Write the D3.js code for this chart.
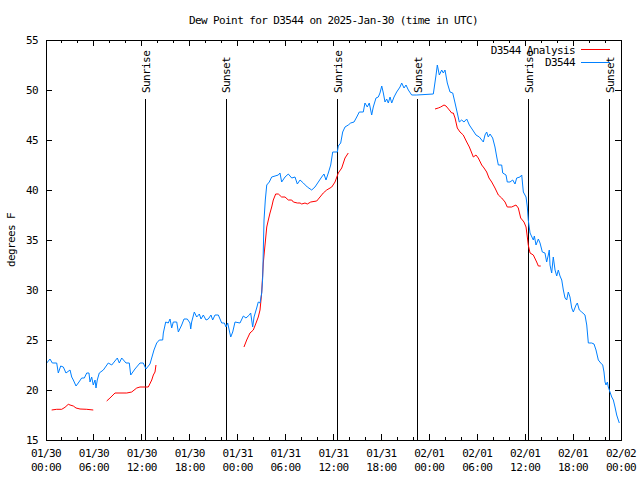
<!DOCTYPE html>
<html>
<head>
<meta charset="utf-8">
<script src="https://cdnjs.cloudflare.com/ajax/libs/d3/7.8.5/d3.min.js"></script>
<style>
  body { margin: 0; background: #fff; }
  text { font-family: "DejaVu Sans Mono", monospace; font-size: 11px; letter-spacing: -0.6px; fill: #000; }
</style>
</head>
<body>
<script>
// hours after 2025-01-30 00:00 UTC
var stationHours = [0.09,0.50,0.79,1.34,1.54,1.84,2.17,2.50,3.01,3.22,3.42,3.76,4.04,4.47,4.80,5.10,5.38,5.51,5.72,5.92,6.14,6.26,6.42,6.67,7.18,7.80,8.23,8.93,9.18,9.48,10.02,10.43,10.61,11.14,11.77,12.18,12.52,13.02,13.52,13.86,14.19,14.61,14.69,14.99,15.31,15.53,15.74,15.94,16.37,16.57,16.99,17.28,17.69,18.03,18.12,18.24,18.57,18.87,19.20,19.41,19.70,20.04,20.32,20.66,20.87,21.16,21.58,22.00,22.33,22.54,22.75,23.13,23.38,23.67,24.29,24.71,25.04,25.46,25.63,25.88,26.05,26.38,26.58,26.80,27.01,27.14,27.21,27.30,27.46,27.64,27.96,28.26,28.68,29.09,29.30,29.51,29.93,30.34,30.77,31.18,31.47,31.81,32.22,32.72,33.27,33.68,34.10,34.52,34.81,35.06,35.35,35.65,35.90,36.48,36.60,36.90,37.15,37.44,37.85,38.15,38.57,38.91,39.23,39.73,39.94,40.23,40.48,40.78,40.98,41.32,41.61,41.82,42.04,42.24,42.45,42.66,42.86,43.08,43.29,43.58,43.91,44.33,44.54,44.83,45.08,45.37,45.79,46.42,48.50,48.84,49.00,49.25,49.55,49.75,49.96,50.25,50.59,50.93,51.22,51.50,51.75,52.05,52.34,52.68,53.01,53.43,53.84,54.26,54.76,54.97,55.18,55.38,55.60,55.93,56.22,56.44,56.64,57.06,57.19,57.60,57.76,58.10,58.44,58.73,58.94,59.35,59.57,59.77,60.11,60.27,60.39,60.61,61.02,61.15,61.36,61.65,61.86,62.15,62.48,62.69,62.90,63.02,63.11,63.32,63.52,63.74,63.95,64.15,64.36,64.58,64.78,64.99,65.20,65.40,65.61,65.83,66.03,66.37,66.53,66.78,67.08,67.49,67.71,67.91,68.33,68.62,68.87,69.16,69.46,69.71,69.87,70.00,70.12,70.29,70.41,70.62,70.84,71.04,71.25,71.46,71.66,71.79];
var stationDew = [22.7,23.1,22.7,22.7,21.7,22.4,22.3,21.7,22.0,21.3,21.0,20.4,20.7,21.2,21.2,21.7,21.7,20.8,21.3,20.5,21.0,20.2,21.0,21.7,22.0,22.7,22.5,23.2,22.7,23.2,22.7,22.7,21.5,22.1,22.7,22.7,22.1,22.6,24.0,24.7,25.0,25.0,25.7,26.8,26.7,27.1,26.2,26.8,26.8,25.8,26.5,27.1,27.1,26.7,26.1,26.8,27.8,27.3,27.6,27.1,27.5,27.0,27.1,27.5,27.0,27.5,27.5,26.7,26.7,26.3,26.7,25.3,25.8,26.8,26.7,27.4,27.2,27.5,27.7,26.3,27.3,28.2,28.8,28.7,29.7,31.3,34.0,37.0,39.0,40.5,40.8,41.3,41.4,41.5,41.7,40.8,41.3,41.6,41.2,41.3,40.6,41.0,40.7,40.3,40.0,40.3,40.8,41.3,41.6,41.0,41.7,42.5,43.8,43.8,44.4,44.7,45.8,46.3,46.5,46.7,46.8,47.3,47.8,47.8,48.7,48.3,48.7,47.5,48.3,49.2,49.3,49.7,50.4,49.7,48.8,49.1,48.7,49.3,48.7,49.3,49.8,50.3,50.7,50.2,50.5,50.0,49.5,49.5,49.6,51.5,52.5,51.5,52.0,51.7,52.0,50.7,49.8,49.7,48.7,47.7,46.8,47.0,46.8,47.1,46.5,46.0,45.5,45.3,44.8,45.5,45.8,45.3,45.6,45.2,44.3,43.3,42.5,42.5,41.7,41.5,40.8,40.8,41.0,40.6,41.2,41.3,41.5,39.8,39.3,38.3,37.0,35.7,35.0,35.4,34.5,35.1,34.7,33.8,33.7,32.8,33.5,34.0,32.5,31.7,33.3,32.0,31.4,32.0,31.4,31.0,30.0,29.2,29.0,29.8,29.3,28.2,27.8,28.5,28.7,28.0,27.8,27.5,26.5,24.7,24.7,24.6,24.0,23.0,22.7,22.5,21.8,20.8,20.5,20.8,20.3,19.8,19.3,19.0,18.3,17.5,17.0,16.7];

// analysis, null = gap
var analysisHours = [0.71,1.34,1.97,2.38,2.79,3.01,3.42,3.76,4.26,5.10,5.92,null,
  7.60,8.01,8.64,10.11,10.73,11.36,11.77,12.81,13.24,13.44,13.65,13.77,null,
  24.79,25.13,25.54,25.96,26.30,26.58,26.80,26.92,27.01,27.21,27.34,27.51,27.64,27.84,28.05,28.26,28.46,28.76,29.09,29.51,29.93,30.34,30.77,30.97,31.47,31.81,32.02,32.43,32.72,33.15,33.90,34.31,34.72,35.15,35.78,36.19,36.60,37.03,37.44,37.85,null,
  48.71,49.12,49.42,49.84,50.09,50.50,50.80,51.00,51.22,51.50,51.84,52.25,52.68,53.01,53.51,53.84,54.13,54.56,54.85,55.18,55.47,55.81,56.22,56.64,57.06,57.48,57.76,58.31,58.85,59.14,59.44,59.85,60.11,60.27,60.39,60.61,61.02,61.44,61.65,61.95];
var analysisDew = [18.0,18.07,18.07,18.27,18.57,18.5,18.4,18.2,18.1,18.07,18.0,null,
  18.9,19.2,19.7,19.7,19.8,20.2,20.3,20.3,21.0,21.5,21.8,22.5,null,
  24.3,25.0,25.7,26.0,26.7,27.3,28.0,29.0,29.8,32.7,33.8,35.2,36.3,37.0,37.7,38.3,39.0,39.6,39.6,39.3,39.3,39.0,39.0,38.8,38.7,38.7,38.6,38.7,38.6,38.8,38.9,39.3,39.7,40.0,40.3,40.8,41.7,42.2,43.2,43.7,null,
  48.1,48.2,48.3,48.5,48.4,48.0,47.7,47.7,47.2,46.2,45.8,45.5,44.8,44.3,43.3,43.5,43.2,42.5,42.2,41.8,41.2,40.8,40.2,39.5,39.2,38.8,38.3,38.3,38.5,38.2,37.2,36.8,36.3,35.3,34.5,33.7,33.5,32.8,32.4,32.4];

var sunHours = [12.48, 22.55, 36.48, 46.5, 60.42, 70.55];
var sunLabels = ["Sunrise", "Sunset", "Sunrise", "Sunset", "Sunrise", "Sunset"];
var yTicks = [15, 20, 25, 30, 35, 40, 45, 50, 55];

var t0 = Date.UTC(2025, 0, 30);
var toDate = function(h) { return new Date(t0 + h * 3600000); };

var margin = {top: 40, right: 19, bottom: 40, left: 46},
    width = 640 - margin.left - margin.right,
    height = 480 - margin.top - margin.bottom;

var svg = d3.select("body").append("svg")
    .attr("width", 640)
    .attr("height", 480);

var g = svg.append("g")
    .attr("transform", "translate(" + margin.left + "," + margin.top + ")");

var x = d3.scaleUtc()
    .domain([toDate(0), toDate(72)])
    .range([0, width]);

var y = d3.scaleLinear()
    .domain([15, 55])
    .range([height, 0]);

var majorTicks = d3.utcHour.every(6).range(toDate(0), toDate(72.01));
var minorTicks = d3.utcHour.every(2).range(toDate(0), toDate(72.01));

// ticks on all four sides, pointing inward
var tickG = g.append("g").attr("stroke", "#000").attr("shape-rendering", "crispEdges");
minorTicks.forEach(function(d) {
  var len = (d.getUTCHours() % 6 === 0) ? 6 : 3;
  tickG.append("line").attr("x1", x(d)).attr("x2", x(d)).attr("y1", height).attr("y2", height - len);
  tickG.append("line").attr("x1", x(d)).attr("x2", x(d)).attr("y1", 0).attr("y2", len);
});
yTicks.forEach(function(v) {
  tickG.append("line").attr("x1", 0).attr("x2", 6).attr("y1", y(v)).attr("y2", y(v));
  tickG.append("line").attr("x1", width).attr("x2", width - 6).attr("y1", y(v)).attr("y2", y(v));
});

// y labels
g.selectAll(".ylab")
    .data(yTicks)
  .enter().append("text")
    .attr("x", -8)
    .attr("y", function(d) { return y(d); })
    .attr("dy", "0.35em")
    .style("text-anchor", "end")
    .text(function(d) { return d; });

// x labels on two lines
var fmtDay = d3.utcFormat("%m/%d"), fmtTime = d3.utcFormat("%H:%M");
var xl = g.selectAll(".xlab")
    .data(majorTicks)
  .enter().append("text")
    .attr("transform", function(d) { return "translate(" + x(d) + "," + height + ")"; })
    .style("text-anchor", "middle");
xl.append("tspan").attr("x", 0).attr("y", 17).text(function(d) { return fmtDay(d); });
xl.append("tspan").attr("x", 0).attr("y", 31).text(function(d) { return fmtTime(d); });

// sunrise / sunset markers
sunHours.forEach(function(h, i) {
  var sx = x(toDate(h));
  g.append("line")
      .attr("x1", sx).attr("x2", sx)
      .attr("y1", height).attr("y2", 59)
      .attr("stroke", "#000")
      .attr("shape-rendering", "crispEdges");
  g.append("text")
      .attr("transform", "translate(" + (sx + 0.5) + ",53) rotate(-90)")
      .attr("dy", "0.35em")
      .style("text-anchor", "start")
      .text(sunLabels[i]);
});

var stationData = stationHours.map(function(h, i) { return {time: toDate(h), value: stationDew[i]}; });
var analysisData = analysisHours.map(function(h, i) {
  return {time: h === null ? null : toDate(h), value: analysisDew[i]};
});

var line = d3.line()
    .defined(function(d) { return d.value !== null; })
    .x(function(d) { return x(d.time); })
    .y(function(d) { return y(d.value); });

g.append("path")
    .datum(analysisData)
    .attr("fill", "none")
    .attr("stroke", "#ff0000")
    .attr("stroke-width", 1)
    .attr("d", line);

g.append("path")
    .datum(stationData)
    .attr("fill", "none")
    .attr("stroke", "#0080ff")
    .attr("stroke-width", 1)
    .attr("d", line);

// frame
g.append("rect")
    .attr("width", width)
    .attr("height", height)
    .attr("fill", "none")
    .attr("stroke", "#000")
    .attr("shape-rendering", "crispEdges");

// legend
var legend = [{name: "D3544 Analysis", color: "#ff0000"}, {name: "D3544", color: "#0080ff"}];
legend.forEach(function(d, i) {
  var ly = 10 + i * 12.5;
  g.append("text")
      .attr("x", 529)
      .attr("y", ly)
      .attr("dy", "0.35em")
      .style("text-anchor", "end")
      .text(d.name);
  g.append("line")
      .attr("x1", 535).attr("x2", 564)
      .attr("y1", ly - 0.5).attr("y2", ly - 0.5)
      .attr("stroke", d.color)
      .attr("shape-rendering", "crispEdges");
});

// title and axis label
svg.append("text")
    .attr("x", margin.left + width / 2)
    .attr("y", 20)
    .attr("dy", "0.35em")
    .style("text-anchor", "middle")
    .text("Dew Point for D3544 on 2025-Jan-30 (time in UTC)");

svg.append("text")
    .attr("transform", "translate(11," + (margin.top + height / 2) + ") rotate(-90)")
    .attr("dy", "0.35em")
    .style("text-anchor", "middle")
    .text("degrees F");
</script>
</body>
</html>
